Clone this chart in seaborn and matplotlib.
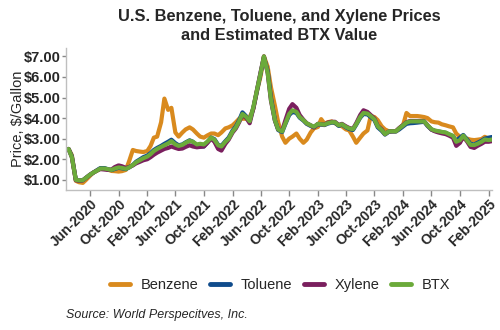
import matplotlib
matplotlib.use("Agg")
import matplotlib.pyplot as plt
import matplotlib.dates as mdates
from matplotlib.ticker import FuncFormatter
import pandas as pd
import seaborn as sns

# Semi-monthly observations (1st and 15th), Mar 2020 - Feb 2025, $/gallon
benzene = [
    # 2020 Mar-Dec
    2.50, 2.20, 0.95, 0.88, 0.85, 1.00, 1.20, 1.35, 1.45, 1.55,
    1.56, 1.50, 1.43, 1.42, 1.40, 1.42, 1.48, 1.90, 2.45, 2.40,
    # 2021
    2.37, 2.35, 2.40, 2.65, 3.05, 3.10, 3.80, 4.95, 4.40, 4.50, 3.30, 3.10,
    3.30, 3.45, 3.55, 3.45, 3.25, 3.10, 3.05, 3.15, 3.25, 3.25, 3.17, 3.30,
    # 2022
    3.50, 3.55, 3.65, 3.80, 3.97, 3.97, 3.97, 4.05, 4.45, 5.25, 6.05, 7.00,
    6.50, 5.50, 4.60, 3.80, 3.10, 2.80, 3.00, 3.10, 3.25, 3.00, 2.80, 2.95,
    # 2023
    3.30, 3.50, 3.57, 3.95, 3.73, 3.80, 3.84, 3.75, 3.65, 3.60, 3.45, 3.40,
    3.10, 2.80, 3.05, 3.25, 3.40, 4.10, 4.05, 3.90, 3.60, 3.45, 3.36, 3.36,
    # 2024
    3.36, 3.50, 3.68, 4.25, 4.10, 4.10, 4.10, 4.08, 4.05, 4.00, 3.84, 3.80,
    3.78, 3.70, 3.65, 3.60, 3.55, 3.25, 3.09, 3.00, 3.00, 2.95, 2.93, 2.95,
    # 2025 Jan-Feb
    2.98, 3.09, 3.00, 3.00,
]

toluene = [
    2.50, 2.15, 1.00, 0.97, 0.98, 1.10, 1.25, 1.35, 1.47, 1.57,
    1.57, 1.52, 1.47, 1.53, 1.58, 1.56, 1.52, 1.60, 1.72, 1.88,
    2.00, 2.10, 2.18, 2.30, 2.45, 2.55, 2.65, 2.75, 2.85, 2.95, 2.78, 2.68,
    2.72, 2.82, 2.92, 2.85, 2.65, 2.62, 2.62, 2.80, 3.05, 2.98, 2.70, 2.65,
    2.88, 3.05, 3.40, 3.60, 3.90, 4.28, 4.08, 3.85, 4.50, 5.25, 6.20, 6.95,
    6.30, 5.00, 3.90, 3.42, 3.32, 3.72, 4.15, 4.30, 4.25, 4.02, 3.88, 3.72,
    3.62, 3.55, 3.70, 3.68, 3.66, 3.73, 3.78, 3.78, 3.62, 3.68, 3.55, 3.47,
    3.42, 3.68, 4.02, 4.20, 4.18, 4.05, 3.90, 3.55, 3.38, 3.20, 3.33, 3.35,
    3.35, 3.45, 3.60, 3.72, 3.75, 3.76, 3.78, 3.80, 3.82, 3.62, 3.44, 3.38,
    3.35, 3.32, 3.28, 3.20, 3.12, 2.90, 3.05, 3.18, 2.95, 2.75, 2.72, 2.80,
    2.90, 3.00, 3.05, 3.08,
]

xylene = [
    2.50, 2.10, 0.98, 0.95, 0.97, 1.10, 1.25, 1.35, 1.45, 1.52,
    1.50, 1.48, 1.50, 1.62, 1.70, 1.66, 1.58, 1.62, 1.70, 1.80,
    1.88, 1.95, 2.00, 2.10, 2.22, 2.32, 2.42, 2.50, 2.55, 2.62, 2.55, 2.50,
    2.52, 2.60, 2.68, 2.62, 2.58, 2.60, 2.62, 2.78, 3.00, 2.85, 2.50, 2.42,
    2.75, 2.95, 3.30, 3.50, 3.80, 4.15, 4.00, 3.75, 4.50, 5.30, 6.25, 7.00,
    6.20, 4.85, 3.88, 3.45, 3.40, 3.90, 4.45, 4.68, 4.50, 4.15, 3.92, 3.75,
    3.65, 3.55, 3.72, 3.70, 3.68, 3.78, 3.82, 3.82, 3.67, 3.72, 3.60, 3.52,
    3.48, 3.75, 4.15, 4.38, 4.30, 4.15, 3.98, 3.62, 3.45, 3.22, 3.35, 3.36,
    3.37, 3.52, 3.67, 3.80, 3.86, 3.86, 3.86, 3.86, 3.85, 3.65, 3.44, 3.36,
    3.30, 3.26, 3.22, 3.15, 3.05, 2.65, 2.80, 3.10, 2.85, 2.60, 2.55, 2.65,
    2.75, 2.85, 2.85, 2.88,
]

btx = [
    2.50, 2.10, 1.00, 0.97, 0.98, 1.10, 1.25, 1.35, 1.45, 1.55,
    1.55, 1.52, 1.48, 1.55, 1.60, 1.58, 1.53, 1.60, 1.72, 1.85,
    1.96, 2.05, 2.13, 2.25, 2.40, 2.50, 2.60, 2.68, 2.77, 2.88, 2.72, 2.65,
    2.70, 2.80, 2.90, 2.85, 2.72, 2.75, 2.72, 2.85, 3.05, 2.95, 2.68, 2.62,
    2.85, 3.00, 3.35, 3.55, 3.85, 4.20, 4.05, 3.85, 4.55, 5.30, 6.20, 7.00,
    6.20, 4.90, 3.90, 3.45, 3.35, 3.75, 4.20, 4.38, 4.30, 4.05, 3.90, 3.75,
    3.65, 3.58, 3.72, 3.70, 3.68, 3.75, 3.80, 3.80, 3.65, 3.70, 3.57, 3.50,
    3.46, 3.70, 4.05, 4.25, 4.22, 4.10, 3.94, 3.60, 3.42, 3.22, 3.35, 3.36,
    3.36, 3.50, 3.65, 3.78, 3.84, 3.84, 3.84, 3.84, 3.84, 3.65, 3.46, 3.40,
    3.36, 3.33, 3.30, 3.22, 3.14, 2.85, 2.93, 3.15, 2.90, 2.70, 2.69, 2.75,
    2.85, 2.96, 2.93, 2.96,
]

months = pd.date_range("2020-03-01", "2025-02-01", freq="MS")
dates = [d + pd.Timedelta(days=off) for d in months for off in (0, 14)]

series_names = ["Benzene", "Toluene", "Xylene", "BTX"]
series_colors = ["#D98A1E", "#104C8C", "#7A1F5E", "#6BAA3A"]

df = pd.concat(
    [pd.DataFrame({"Date": dates, "Price": vals, "Product": name})
     for name, vals in zip(series_names, [benzene, toluene, xylene, btx])],
    ignore_index=True,
)

sns.set_theme(style="white")
plt.rcParams["font.family"] = ["Liberation Sans", "DejaVu Sans"]

fig = plt.figure(figsize=(5.0, 3.3), dpi=100)
ax = fig.add_axes([0.132, 0.424, 0.852, 0.43])

sns.lineplot(data=df, x="Date", y="Price", hue="Product",
             hue_order=series_names, palette=series_colors,
             linewidth=3.0, ax=ax, legend=False, estimator=None)

ax.set_xlim(pd.Timestamp("2020-02-19"), pd.Timestamp("2025-02-15"))
ax.set_ylim(0.5, 7.4)
ax.set_yticks([1, 2, 3, 4, 5, 6, 7])
ax.yaxis.set_major_formatter(FuncFormatter(lambda v, p: f"${v:.2f}"))

tick_dates = pd.date_range("2020-06-01", "2025-02-01", freq="4MS")
ax.set_xticks(tick_dates)
ax.xaxis.set_major_formatter(mdates.DateFormatter("%b-%Y"))

for side in ("top", "right"):
    ax.spines[side].set_visible(False)
for side in ("left", "bottom"):
    ax.spines[side].set_color("#BFBFBF")
    ax.spines[side].set_linewidth(1.0)

ax.tick_params(axis="x", direction="out", length=4, width=1, color="#888888",
               labelsize=10, pad=1, bottom=True)
ax.tick_params(axis="y", direction="out", length=3, width=1, color="#888888",
               labelsize=10.5, pad=1, left=True)
for lbl in ax.get_xticklabels():
    lbl.set_rotation(45)
    lbl.set_ha("right")
    lbl.set_rotation_mode("anchor")
    lbl.set_fontweight("bold")
for lbl in ax.get_yticklabels():
    lbl.set_fontweight("bold")

ax.set_xlabel("")
ax.set_ylabel("Price, $/Gallon", fontsize=10.5, labelpad=-1)

ax.set_title("U.S. Benzene, Toluene, and Xylene Prices\nand Estimated BTX Value",
             fontsize=11.8, fontweight="bold", linespacing=1.3, pad=6)

handles = [plt.Line2D([], [], color=c, linewidth=3.5) for c in series_colors]
fig.legend(handles, series_names, loc="center", bbox_to_anchor=(0.56, 0.135),
           ncol=4, frameon=False, fontsize=10.5, handlelength=1.4,
           columnspacing=0.8, handletextpad=0.7)

fig.text(0.132, 0.045, "Source: World Perspecitves, Inc.", fontsize=9,
         style="italic", ha="left", va="center")

fig.savefig("out.png", dpi=100)
